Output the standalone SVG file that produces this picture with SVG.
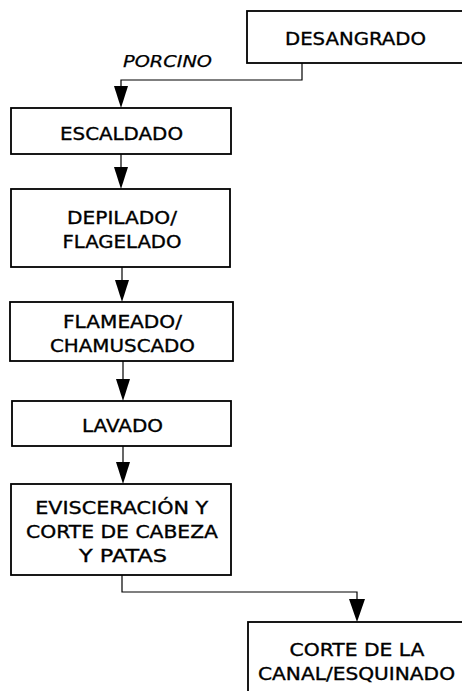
<svg xmlns="http://www.w3.org/2000/svg" width="462" height="691" viewBox="0 0 462 691">
<style>
.box{fill:#fff;stroke:#000;stroke-width:1.8}
.t{font-family:"DejaVu Sans",Verdana,sans-serif;font-size:17.5px;fill:#000;stroke:#000;stroke-width:0.35;text-anchor:middle}
.lbl{font-family:"DejaVu Sans",Verdana,sans-serif;font-size:16px;font-style:italic;fill:#000;stroke:#000;stroke-width:0.25;text-anchor:middle}
.c{fill:none;stroke:#000;stroke-width:1.2}
</style>
<rect width="462" height="691" fill="#fff"/>
<g id="connectors">
<path class="c" d="M302,63 V80 H121 V86"/>
<path d="M114,86 L128,86 L121,108 Z" fill="#000"/>
<path class="c" d="M121,154 V167"/>
<path d="M114,167 L128,167 L121,189 Z" fill="#000"/>
<path class="c" d="M122,267 V280"/>
<path d="M115,280 L129,280 L122,302 Z" fill="#000"/>
<path class="c" d="M123,361 V379"/>
<path d="M116,379 L130,379 L123,401 Z" fill="#000"/>
<path class="c" d="M123,446 V462"/>
<path d="M116,462 L130,462 L123,484 Z" fill="#000"/>
<path class="c" d="M122,575 V592 H357 V599"/>
<path d="M349,599 L365,599 L357,622 Z" fill="#000"/>
</g>
<g id="desangrado">
<rect class="box" x="247" y="11" width="225" height="52"/>
<text class="t" x="355.5" y="44.5" textLength="141" lengthAdjust="spacingAndGlyphs">DESANGRADO</text>
</g>
<g id="porcino-label">
<text class="lbl" x="167.5" y="67" textLength="89" lengthAdjust="spacingAndGlyphs">PORCINO</text>
</g>
<g id="escaldado">
<rect class="box" x="11" y="108" width="220" height="46"/>
<text class="t" x="121.5" y="139.5" textLength="123" lengthAdjust="spacingAndGlyphs">ESCALDADO</text>
</g>
<g id="depilado">
<rect class="box" x="11" y="189" width="219" height="78"/>
<text class="t" x="122" y="224" textLength="110" lengthAdjust="spacingAndGlyphs">DEPILADO/</text>
<text class="t" x="122" y="248" textLength="119" lengthAdjust="spacingAndGlyphs">FLAGELADO</text>
</g>
<g id="flameado">
<rect class="box" x="10" y="302" width="223" height="59"/>
<text class="t" x="122.5" y="328" textLength="119" lengthAdjust="spacingAndGlyphs">FLAMEADO/</text>
<text class="t" x="122.5" y="352" textLength="145" lengthAdjust="spacingAndGlyphs">CHAMUSCADO</text>
</g>
<g id="lavado">
<rect class="box" x="12" y="401" width="219" height="45"/>
<text class="t" x="122.5" y="432" textLength="81" lengthAdjust="spacingAndGlyphs">LAVADO</text>
</g>
<g id="evisceracion">
<rect class="box" x="11" y="484" width="220" height="91"/>
<text class="t" x="121.7" y="514" textLength="173" lengthAdjust="spacingAndGlyphs">EVISCERACIÓN Y</text>
<text class="t" x="122" y="538" textLength="192" lengthAdjust="spacingAndGlyphs">CORTE DE CABEZA</text>
<text class="t" x="123" y="562" textLength="88" lengthAdjust="spacingAndGlyphs">Y PATAS</text>
</g>
<g id="corte-canal">
<rect class="box" x="248" y="622" width="225" height="80"/>
<text class="t" x="357" y="656" textLength="135" lengthAdjust="spacingAndGlyphs">CORTE DE LA</text>
<text class="t" x="356.5" y="680" textLength="197" lengthAdjust="spacingAndGlyphs">CANAL/ESQUINADO</text>
</g>
</svg>
